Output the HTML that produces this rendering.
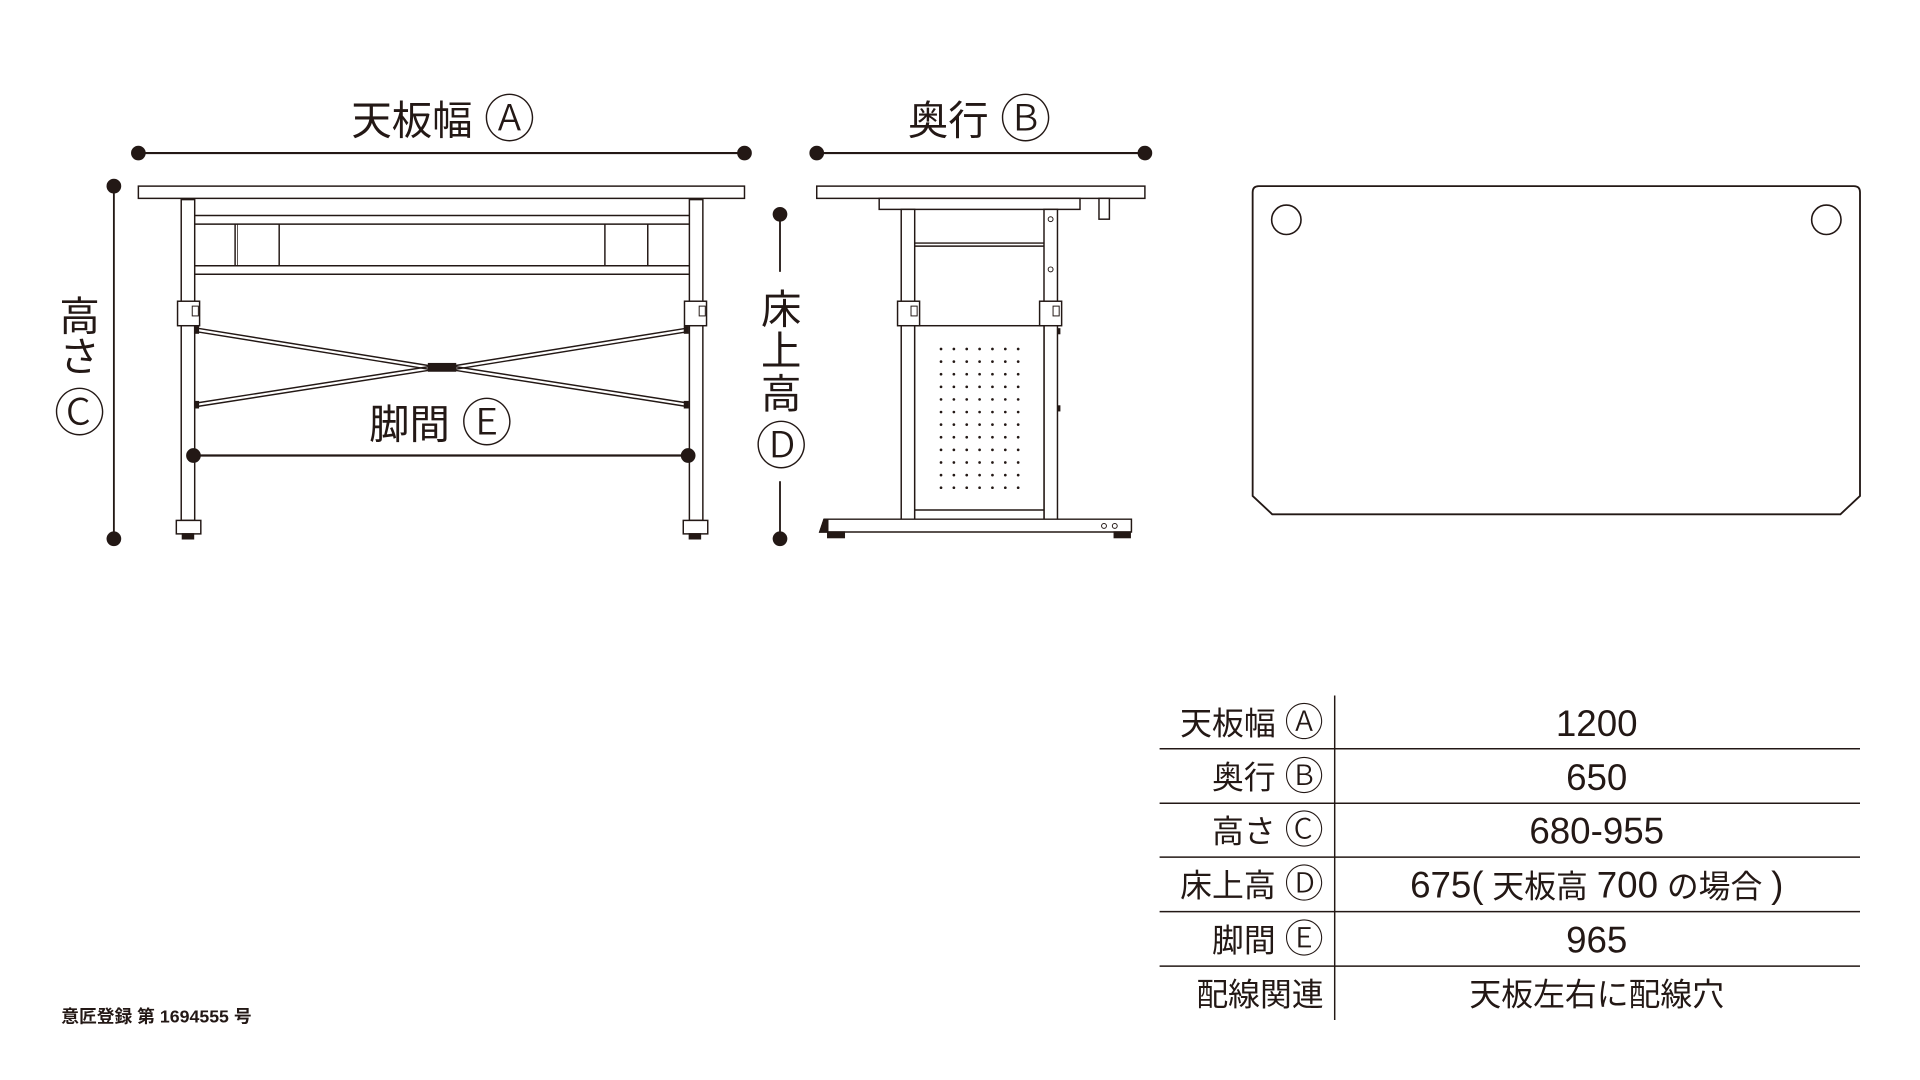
<!DOCTYPE html>
<html><head><meta charset="utf-8"><style>
html,body{margin:0;padding:0;background:#fff;}
svg{display:block;}
text{font-family:"Liberation Sans","Noto Sans CJK JP",sans-serif;fill:#231815;}
.c{font-weight:300;}
</style></head><body>
<svg width="1920" height="1080" viewBox="0 0 1568 882" xmlns="http://www.w3.org/2000/svg">
<defs>
<g id="row" fill="#231815">
<circle cx="768.5" cy="0" r="1.1"/><circle cx="779" cy="0" r="1.1"/><circle cx="789.5" cy="0" r="1.1"/><circle cx="800" cy="0" r="1.1"/><circle cx="810.5" cy="0" r="1.1"/><circle cx="821" cy="0" r="1.1"/><circle cx="831.5" cy="0" r="1.1"/>
</g>
</defs>
<rect width="1568" height="882" fill="#fff"/>
<g stroke="#231815" fill="none" stroke-width="1.2">
<line x1="113" y1="125" x2="608" y2="125" stroke-width="1.8"/>
<line x1="93" y1="152" x2="93" y2="440" stroke-width="1.5"/>
<line x1="158" y1="372" x2="562" y2="372" stroke-width="1.8"/>
<rect x="113" y="152" width="495" height="10" fill="#fff"/>
<rect x="148" y="163" width="11" height="262" fill="#fff"/>
<rect x="563" y="163" width="11" height="262" fill="#fff"/>
<rect x="144" y="425" width="20" height="11" fill="#fff"/>
<rect x="558" y="425" width="20" height="11" fill="#fff"/>
<rect x="149" y="436" width="9" height="4" fill="#231815"/>
<rect x="563" y="436" width="9" height="4" fill="#231815"/>
<line x1="159" y1="176" x2="563" y2="176"/>
<line x1="159" y1="183" x2="563" y2="183"/>
<line x1="159" y1="217" x2="563" y2="217"/>
<line x1="159" y1="224" x2="563" y2="224"/>
<line x1="192" y1="183" x2="192" y2="217"/><line x1="194" y1="183" x2="194" y2="217" stroke-width="0.6"/>
<line x1="228" y1="183" x2="228" y2="217"/>
<line x1="494" y1="183" x2="494" y2="217"/>
<line x1="529" y1="183" x2="529" y2="217"/>
<rect x="145" y="246" width="18" height="20" fill="#fff"/>
<rect x="559" y="246" width="18" height="20" fill="#fff"/>
<rect x="157" y="250" width="5" height="8" fill="#fff" stroke-width="0.8"/>
<rect x="571" y="250" width="5" height="8" fill="#fff" stroke-width="0.8"/>
<line x1="161" y1="268" x2="353" y2="299"/><line x1="161" y1="271" x2="353" y2="302"/>
<line x1="369" y1="299" x2="561" y2="268"/><line x1="369" y1="302" x2="561" y2="271"/>
<line x1="161" y1="329" x2="353" y2="299"/><line x1="161" y1="332" x2="353" y2="302"/>
<line x1="369" y1="299" x2="561" y2="329"/><line x1="369" y1="302" x2="561" y2="332"/>
<rect x="350" y="297" width="22" height="6" fill="#231815"/>
<rect x="159" y="267" width="3" height="5" fill="#231815"/>
<rect x="559" y="267" width="3" height="5" fill="#231815"/>
<rect x="159" y="328" width="3" height="5" fill="#231815"/>
<rect x="559" y="328" width="3" height="5" fill="#231815"/>
<line x1="637" y1="175" x2="637" y2="222" stroke-width="1.5"/>
<line x1="637" y1="393" x2="637" y2="436" stroke-width="1.5"/>
<line x1="667" y1="125" x2="935" y2="125" stroke-width="1.8"/>
<rect x="667" y="152" width="268" height="10" fill="#fff"/>
<rect x="718" y="162" width="164" height="9" fill="#fff"/>
<rect x="897.5" y="162" width="8.5" height="17" fill="#fff"/>
<rect x="736" y="171" width="11" height="254" fill="#fff"/>
<rect x="852.6" y="171" width="11" height="254" fill="#fff"/>
<line x1="747" y1="198.5" x2="852.6" y2="198.5"/><line x1="747" y1="201" x2="852.6" y2="201"/>
<circle cx="858" cy="179" r="2" stroke-width="0.8"/><circle cx="858" cy="220" r="2" stroke-width="0.8"/>
<rect x="747" y="266" width="105.6" height="159" fill="#fff"/>
<line x1="747" y1="416.5" x2="852.6" y2="416.5"/>
<rect x="733" y="246" width="18" height="20" fill="#fff"/>
<rect x="849" y="246" width="18" height="20" fill="#fff"/>
<rect x="744" y="250" width="5" height="8" fill="#fff" stroke-width="0.8"/>
<rect x="860" y="250" width="5" height="8" fill="#fff" stroke-width="0.8"/>
<rect x="864" y="268" width="2" height="5" fill="#231815" stroke="none"/>
<rect x="864" y="331" width="2" height="5" fill="#231815" stroke="none"/>
<path d="M673 424 L924 424 L924 434.5 L669.5 434.5 Z" fill="#fff"/>
<path d="M669.5 434.5 L673 424 L676 424 L676 434.5 Z" fill="#231815"/>
<rect x="676" y="434.5" width="13.5" height="4.5" fill="#231815"/>
<rect x="910" y="434.5" width="13" height="4.5" fill="#231815"/>
<circle cx="901.6" cy="429.5" r="2" stroke-width="0.8"/><circle cx="910.4" cy="429.5" r="2" stroke-width="0.8"/>
<path d="M1028 152 L1514 152 Q1519 152 1519 157 L1519 405 L1503 420 L1039 420 L1023 405 L1023 157 Q1023 152 1028 152 Z" stroke-width="1.5"/>
<circle cx="1050.5" cy="179.5" r="12" stroke-width="1.3"/>
<circle cx="1491.5" cy="179.5" r="12" stroke-width="1.3"/>
<line x1="1090" y1="568" x2="1090" y2="833"/>
<line x1="947" y1="611.5" x2="1519" y2="611.5"/>
<line x1="947" y1="656" x2="1519" y2="656"/>
<line x1="947" y1="700" x2="1519" y2="700"/>
<line x1="947" y1="744.5" x2="1519" y2="744.5"/>
<line x1="947" y1="789" x2="1519" y2="789"/>
</g>
<g fill="#231815">
<circle cx="113" cy="125" r="6"/><circle cx="608" cy="125" r="6"/>
<circle cx="93" cy="152" r="6"/><circle cx="93" cy="440" r="6"/>
<circle cx="158" cy="372" r="6"/><circle cx="562" cy="372" r="6"/>
<circle cx="637" cy="175" r="6"/><circle cx="637" cy="440" r="6"/>
<circle cx="667" cy="125" r="6"/><circle cx="935" cy="125" r="6"/>
</g>
<use href="#row" y="285"/><use href="#row" y="295.3"/><use href="#row" y="305.6"/><use href="#row" y="315.9"/><use href="#row" y="326.2"/><use href="#row" y="336.5"/><use href="#row" y="346.8"/><use href="#row" y="357.1"/><use href="#row" y="367.4"/><use href="#row" y="377.7"/><use href="#row" y="388"/><use href="#row" y="398.3"/>
<g font-size="33" text-anchor="middle">
<text x="362" y="110">天板幅 <tspan class="c" font-size="42" dy="2">Ⓐ</tspan></text>
<text x="800" y="110">奥行 <tspan class="c" font-size="42" dy="2">Ⓑ</tspan></text>
<text x="360" y="358">脚間 <tspan class="c" font-size="42" dy="2">Ⓔ</tspan></text>
<text x="65" y="270">高</text>
<text x="65" y="303">さ</text>
<text class="c" x="65" y="352" font-size="42">Ⓒ</text>
<text x="638" y="264">床</text>
<text x="638" y="298">上</text>
<text x="638" y="333">高</text>
<text class="c" x="638" y="379" font-size="42">Ⓓ</text>
</g>
<g font-size="26" text-anchor="end">
<text x="1081" y="600">天板幅 <tspan class="c" font-size="32" dy="1">Ⓐ</tspan></text>
<text x="1081" y="644">奥行 <tspan class="c" font-size="32" dy="1">Ⓑ</tspan></text>
<text x="1081" y="688">高さ <tspan class="c" font-size="32" dy="1">Ⓒ</tspan></text>
<text x="1081" y="732">床上高 <tspan class="c" font-size="32" dy="1">Ⓓ</tspan></text>
<text x="1081" y="777">脚間 <tspan class="c" font-size="32" dy="1">Ⓔ</tspan></text>
<text x="1081" y="821">配線関連</text>
</g>
<g font-size="26" text-anchor="middle">
<text x="1304" y="601" font-size="30">1200</text>
<text x="1304" y="645" font-size="30">650</text>
<text x="1304" y="689" font-size="30">680-955</text>
<text x="1304" y="733"><tspan font-size="30">675(</tspan> 天板高 <tspan font-size="30">700</tspan> の場合 <tspan font-size="30">)</tspan></text>
<text x="1304" y="778" font-size="30">965</text>
<text x="1304" y="821">天板左右に配線穴</text>
</g>
<text x="50" y="835" font-size="14.5" font-weight="bold">意匠登録 第 1694555 号</text>
</svg>
</body></html>
